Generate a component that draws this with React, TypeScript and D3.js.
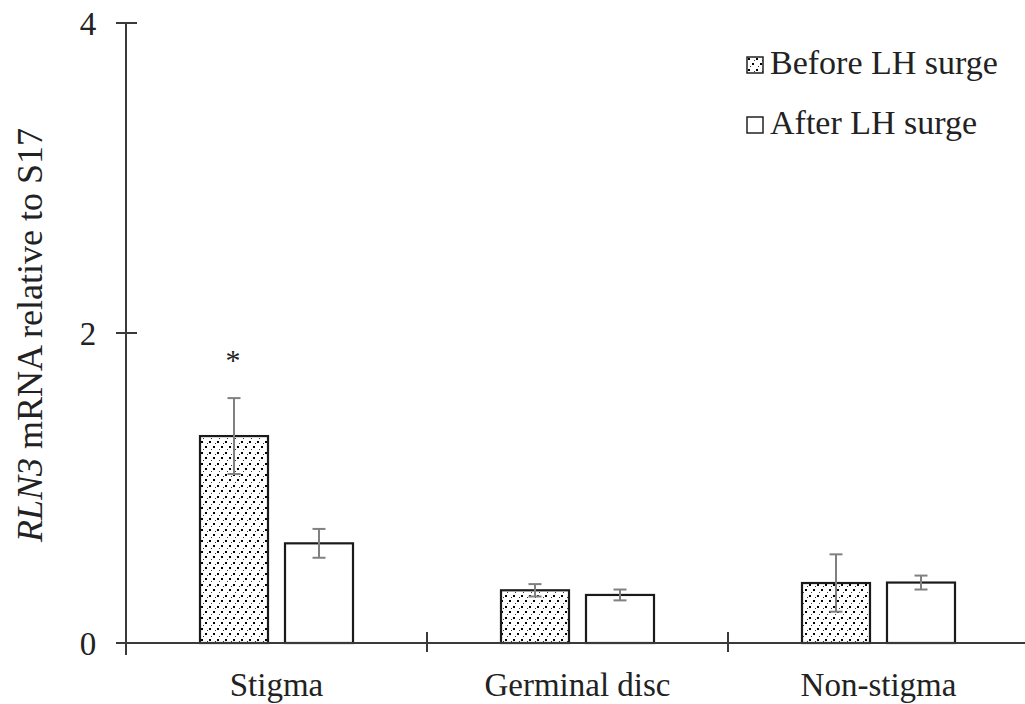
import React from "react";
import * as d3 from "d3";

const categories = ["Stigma", "Germinal disc", "Non-stigma"];
const seriesNames = ["Before LH surge", "After LH surge"];
const beforeValues = [1.335, 0.34, 0.387];
const beforeErrors = [0.245, 0.04, 0.185];
const afterValues = [0.643, 0.31, 0.39];
const afterErrors = [0.093, 0.035, 0.045];
const yTicks = [0, 2, 4];
const significance = ["*", "", ""];

const W = 1025;
const H = 704;
const TXT: React.CSSProperties = { fontFamily: "Liberation Serif" };

export default function App() {
  const x0 = 126;
  const yScale = d3.scaleLinear().domain([0, 4]).range([643, 23]);
  const xBand = d3.scaleBand<string>().domain(categories).range([x0, x0 + 903]).padding(0);
  const barW = 68;
  const gap = 17;
  const series = [
    { name: seriesNames[0], values: beforeValues, errors: beforeErrors, fill: "url(#dots)" },
    { name: seriesNames[1], values: afterValues, errors: afterErrors, fill: "#fff" },
  ];
  const axisColor = "#3a3a3a";
  const errColor = "#808080";

  return (
    <svg width={W} height={H} style={{ position: "absolute", left: 0, top: 0 }}>
      <defs>
        <pattern id="dots" width={8} height={11} patternUnits="userSpaceOnUse">
          <rect width={8} height={11} fill="#fff" />
          <rect x={1} y={1} width={2} height={2} fill="#000" />
          <rect x={5} y={6} width={2} height={2} fill="#000" />
          <rect x={3} y={9} width={1} height={1} fill="#333" />
          <rect x={7} y={3} width={1} height={1} fill="#333" />
        </pattern>
      </defs>

      {categories.map((c, i) => {
        const cx = (xBand(c) as number) + xBand.bandwidth() / 2;
        return (
          <g key={c}>
            {series.map((s, si) => {
              const left = si === 0 ? cx - gap / 2 - barW : cx + gap / 2;
              const v = s.values[i];
              const e = s.errors[i];
              const bc = left + barW / 2;
              return (
                <g key={s.name}>
                  <rect
                    x={left}
                    y={yScale(v)}
                    width={barW}
                    height={yScale(0) - yScale(v)}
                    fill={s.fill}
                    stroke="#1a1a1a"
                    strokeWidth={2.2}
                  />
                  <line x1={bc} x2={bc} y1={yScale(v + e)} y2={yScale(v - e)} stroke={errColor} strokeWidth={2} />
                  <line x1={bc - 6.5} x2={bc + 6.5} y1={yScale(v + e)} y2={yScale(v + e)} stroke={errColor} strokeWidth={2} />
                  <line x1={bc - 6.5} x2={bc + 6.5} y1={yScale(v - e)} y2={yScale(v - e)} stroke={errColor} strokeWidth={2} />
                  {si === 0 && significance[i] && (
                    <text x={bc - 1} y={yScale(v + e) - 28} textAnchor="middle" fontSize={30} fill="#222" style={TXT}>
                      {significance[i]}
                    </text>
                  )}
                </g>
              );
            })}
          </g>
        );
      })}

      <line x1={x0} x2={x0} y1={yScale(4)} y2={655} stroke={axisColor} strokeWidth={2} />
      {yTicks.map((t) => (
        <g key={t}>
          <line x1={116} x2={137} y1={yScale(t)} y2={yScale(t)} stroke={axisColor} strokeWidth={2} />
          <text x={88} y={yScale(t)} dy="0.35em" textAnchor="middle" fontSize={33} fill="#222" style={TXT}>
            {t}
          </text>
        </g>
      ))}

      <line x1={x0} x2={W} y1={yScale(0)} y2={yScale(0)} stroke={axisColor} strokeWidth={2} />
      {categories.slice(1).map((c) => (
        <line key={c} x1={xBand(c) as number} x2={xBand(c) as number} y1={632} y2={652} stroke={axisColor} strokeWidth={2} />
      ))}
      {categories.map((c) => (
        <text key={c} x={(xBand(c) as number) + xBand.bandwidth() / 2} y={696} textAnchor="middle" fontSize={33} fill="#222" style={TXT}>
          {c}
        </text>
      ))}

      <text transform="translate(42,335) rotate(-90)" textAnchor="middle" fontSize={36} fill="#222" style={TXT}>
        <tspan fontStyle="italic" style={TXT}>RLN3</tspan>
        <tspan style={TXT}> mRNA relative to S17</tspan>
      </text>

      {series.map((s, i) => (
        <g key={s.name} transform={`translate(747,${57 + i * 60})`}>
          <rect x={0} y={0} width={16} height={16} fill={i === 0 ? "url(#dots)" : "#fff"} stroke="#222" strokeWidth={1.5} />
          <text x={23} y={17} fontSize={34} fill="#222" style={TXT}>
            {s.name}
          </text>
        </g>
      ))}
    </svg>
  );
}
